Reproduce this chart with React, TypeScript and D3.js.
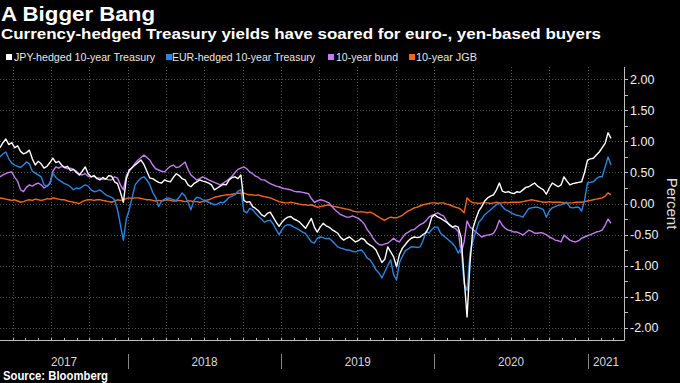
import React from "react";
import * as d3 from "d3";

const START = new Date(2017, 2, 2);
const END = new Date(2021, 2, 28);
const WEEKS = 209;
const dates: Date[] = d3.range(WEEKS).map((i) => d3.timeDay.offset(START, i * 7));

const jpyHedged = [
  0.90,0.98,1.04,0.95,0.98,0.90,0.93,0.84,0.80,0.82,
  0.86,0.72,0.62,0.68,0.64,0.57,0.60,0.66,0.73,0.66,
  0.68,0.62,0.58,0.60,0.53,0.55,0.50,0.46,0.52,0.59,
  0.48,0.43,0.45,0.40,0.38,0.42,0.39,0.45,0.44,0.35,
  0.32,0.18,0.02,0.40,0.54,0.58,0.62,0.66,0.70,0.63,
  0.52,0.41,0.40,0.37,0.34,0.33,0.38,0.36,0.35,0.42,
  0.48,0.45,0.40,0.38,0.30,0.27,0.32,0.35,0.38,0.36,
  0.35,0.33,0.30,0.22,0.25,0.28,0.31,0.30,0.38,0.42,
  0.43,0.40,0.46,0.05,0.02,0.03,-0.05,-0.08,-0.12,-0.18,
  -0.21,-0.16,-0.14,-0.22,-0.30,-0.37,-0.30,-0.25,-0.22,-0.21,
  -0.25,-0.27,-0.30,-0.35,-0.40,-0.32,-0.24,-0.38,-0.46,-0.38,
  -0.32,-0.36,-0.38,-0.42,-0.45,-0.48,-0.55,-0.59,-0.56,-0.54,
  -0.58,-0.62,-0.60,-0.56,-0.58,-0.64,-0.67,-0.70,-0.75,-0.85,
  -0.95,-0.90,-0.70,-0.78,-0.86,-1.02,-0.82,-0.72,-0.66,-0.60,
  -0.56,-0.54,-0.55,-0.54,-0.50,-0.47,-0.38,-0.22,-0.18,-0.22,
  -0.24,-0.27,-0.30,-0.34,-0.38,-0.36,-0.38,-0.55,-1.20,-1.83,
  -0.96,-0.40,-0.25,-0.12,-0.05,0.04,0.09,0.12,0.14,0.22,
  0.33,0.20,0.18,0.19,0.17,0.16,0.19,0.18,0.22,0.26,
  0.27,0.30,0.33,0.28,0.25,0.22,0.15,0.25,0.33,0.30,
  0.27,0.30,0.43,0.36,0.30,0.32,0.33,0.34,0.35,0.50,
  0.70,0.72,0.73,0.78,0.83,0.90,0.97,1.14,1.05,
];

const eurHedged = [
  0.75,0.80,0.83,0.72,0.65,0.62,0.60,0.58,0.62,0.67,
  0.64,0.52,0.49,0.46,0.43,0.30,0.28,0.33,0.49,0.42,
  0.38,0.35,0.32,0.30,0.27,0.22,0.25,0.24,0.27,0.30,
  0.28,0.22,0.19,0.20,0.22,0.18,0.14,0.12,0.10,0.06,
  -0.10,-0.35,-0.59,-0.25,-0.10,0.10,0.30,0.36,0.41,0.43,
  0.38,0.30,0.18,0.10,-0.05,0.04,0.07,0.09,0.08,0.06,
  0.05,0.10,0.17,0.12,0.02,-0.10,0.05,0.10,0.09,0.06,
  0.04,0.02,0.00,-0.02,-0.01,0.02,0.01,0.05,0.10,0.12,
  0.14,0.20,0.22,-0.12,-0.15,-0.08,-0.10,-0.16,-0.21,-0.25,
  -0.30,-0.28,-0.27,-0.33,-0.42,-0.50,-0.42,-0.36,-0.34,-0.35,
  -0.38,-0.40,-0.43,-0.46,-0.48,-0.55,-0.62,-0.64,-0.56,-0.54,
  -0.55,-0.57,-0.56,-0.60,-0.65,-0.70,-0.72,-0.73,-0.75,-0.75,
  -0.77,-0.78,-0.76,-0.75,-0.80,-0.88,-0.91,-0.98,-1.07,-1.12,
  -1.20,-1.10,-1.00,-0.91,-1.15,-1.23,-0.95,-0.85,-0.76,-0.73,
  -0.70,-0.70,-0.71,-0.70,-0.60,-0.45,-0.48,-0.42,-0.38,-0.38,
  -0.48,-0.52,-0.56,-0.60,-0.64,-0.70,-0.80,-0.72,-1.30,-1.40,
  -0.80,-0.60,-0.45,-0.30,-0.25,-0.18,-0.14,-0.10,-0.06,-0.02,
  0.01,-0.05,-0.10,-0.12,-0.15,-0.17,-0.19,-0.20,-0.22,-0.15,
  -0.08,-0.07,-0.06,-0.06,-0.08,-0.10,-0.22,-0.12,-0.07,-0.05,
  -0.03,-0.02,0.00,0.02,-0.06,-0.07,-0.06,-0.06,-0.12,0.05,
  0.33,0.34,0.35,0.40,0.43,0.43,0.59,0.75,0.62,
];

const bund = [
  0.43,0.46,0.48,0.50,0.51,0.42,0.36,0.22,0.19,0.26,
  0.30,0.28,0.31,0.33,0.30,0.25,0.28,0.32,0.52,0.59,
  0.57,0.60,0.58,0.56,0.57,0.55,0.52,0.47,0.46,0.48,
  0.44,0.43,0.44,0.41,0.41,0.39,0.40,0.38,0.38,0.43,
  0.41,0.30,0.22,0.45,0.52,0.58,0.65,0.70,0.74,0.78,
  0.74,0.70,0.62,0.56,0.54,0.52,0.51,0.56,0.60,0.62,
  0.58,0.59,0.63,0.67,0.55,0.46,0.42,0.38,0.40,0.43,
  0.41,0.38,0.36,0.34,0.32,0.30,0.33,0.36,0.40,0.44,
  0.50,0.55,0.57,0.59,0.56,0.51,0.48,0.44,0.42,0.38,
  0.38,0.35,0.32,0.30,0.28,0.27,0.25,0.24,0.23,0.22,
  0.20,0.19,0.19,0.18,0.17,0.16,0.08,0.02,0.04,0.06,
  0.05,0.03,0.01,-0.05,-0.10,-0.14,-0.18,-0.20,-0.22,-0.22,
  -0.20,-0.22,-0.24,-0.28,-0.33,-0.42,-0.48,-0.56,-0.62,-0.66,
  -0.67,-0.65,-0.64,-0.60,-0.56,-0.60,-0.62,-0.55,-0.49,-0.46,
  -0.43,-0.42,-0.38,-0.34,-0.32,-0.28,-0.22,-0.19,-0.17,-0.15,
  -0.18,-0.20,-0.28,-0.35,-0.38,-0.40,-0.45,-0.80,-0.62,-0.28,
  -0.38,-0.42,-0.46,-0.50,-0.54,-0.52,-0.51,-0.50,-0.48,-0.40,
  -0.27,-0.35,-0.40,-0.43,-0.44,-0.46,-0.46,-0.48,-0.51,-0.47,
  -0.43,-0.45,-0.48,-0.48,-0.47,-0.48,-0.50,-0.54,-0.56,-0.59,
  -0.60,-0.62,-0.51,-0.55,-0.59,-0.61,-0.62,-0.60,-0.56,-0.54,
  -0.52,-0.50,-0.48,-0.46,-0.45,-0.43,-0.35,-0.25,-0.32,
];

const jgb = [
  0.09,0.08,0.07,0.06,0.05,0.06,0.04,0.02,0.03,0.05,
  0.06,0.05,0.07,0.06,0.05,0.06,0.08,0.07,0.09,0.08,
  0.07,0.06,0.06,0.04,0.03,0.02,0.01,0.00,0.03,0.05,
  0.06,0.06,0.05,0.06,0.06,0.05,0.04,0.03,0.02,0.04,
  0.06,0.05,0.06,0.08,0.09,0.08,0.09,0.09,0.08,0.07,
  0.06,0.06,0.05,0.04,0.05,0.04,0.05,0.06,0.05,0.04,
  0.04,0.05,0.04,0.03,0.04,0.04,0.03,0.03,0.02,0.03,
  0.05,0.06,0.08,0.10,0.11,0.12,0.13,0.14,0.14,0.15,
  0.16,0.17,0.16,0.17,0.15,0.14,0.14,0.13,0.14,0.12,
  0.11,0.10,0.09,0.07,0.05,0.03,0.02,0.01,0.01,0.02,
  0.01,0.00,-0.01,-0.02,-0.02,-0.03,-0.02,-0.04,-0.06,-0.05,
  -0.04,-0.03,-0.02,-0.04,-0.05,-0.06,-0.07,-0.08,-0.09,-0.10,
  -0.12,-0.13,-0.14,-0.13,-0.14,-0.15,-0.14,-0.16,-0.19,-0.22,
  -0.25,-0.27,-0.24,-0.22,-0.23,-0.23,-0.21,-0.19,-0.15,-0.12,
  -0.10,-0.07,-0.06,-0.04,-0.02,-0.01,0.00,0.01,0.01,0.00,
  0.01,0.01,-0.01,-0.02,-0.04,-0.06,-0.07,-0.10,-0.15,0.09,
  0.04,0.01,0.01,0.00,0.01,0.01,0.01,0.00,0.01,0.02,
  0.01,0.01,0.02,0.01,0.02,0.02,0.02,0.02,0.03,0.04,
  0.05,0.06,0.05,0.04,0.03,0.02,0.02,0.03,0.02,0.02,
  0.02,0.02,0.01,0.01,0.01,0.01,0.02,0.02,0.02,0.03,
  0.04,0.05,0.06,0.07,0.08,0.09,0.12,0.17,0.14,
];

const seriesNames = [
  "JPY-hedged 10-year Treasury",
  "EUR-hedged 10-year Treasury",
  "10-year bund",
  "10-year JGB",
];
const seriesColors = ["#ffffff", "#2a86e0", "#c27cf0", "#f2661c"];
const seriesValues = [jpyHedged, eurHedged, bund, jgb];
const drawOrder = [3, 2, 1, 0];

const yTicks = [2, 1.5, 1, 0.5, 0, -0.5, -1, -1.5, -2];
const yMinorTicks = d3.range(-2, 2.01, 0.25);

const W = 680;
const H = 383;
const PLOT = { left: 0, right: 624, top: 67, bottom: 340 };
const FONT = "'Liberation Sans', Arial, sans-serif";

// legend layout: [swatchX, textX, textWidth]
const legendLayout = [
  [6, 14, 141],
  [166, 172, 143],
  [328, 336, 62],
  [409, 416, 61],
];

export default function App() {
  const x = d3.scaleTime().domain([START, END]).range([PLOT.left, PLOT.right]);
  const y = d3.scaleLinear().domain([-2.2, 2.2]).range([PLOT.bottom, PLOT.top]);

  const quarters = d3.timeMonth.every(3)!.range(START, END);
  const months = d3.timeMonth.range(START, END);
  const yearStarts = d3.timeYear.range(START, END);
  const years = d3.timeYear.range(d3.timeYear.floor(START), END);

  const line = (vals: number[]) =>
    d3
      .line<number>()
      .x((_, i) => x(dates[i]))
      .y((v) => y(v))(vals) || "";

  return (
    <svg
      width={W}
      height={H}
      style={{ position: "absolute", left: 0, top: 0, background: "#000" }}
      fontFamily={FONT}
    >
      <rect x={0} y={0} width={W} height={H} fill="#000" />
      <text x={1} y={21} fill="#fff" fontWeight="bold" fontSize={20} textLength={154} lengthAdjust="spacingAndGlyphs">
        A Bigger Bang
      </text>
      <text x={1} y={39} fill="#fff" fontWeight="bold" fontSize={15} textLength={600} lengthAdjust="spacingAndGlyphs">
        Currency-hedged Treasury yields have soared for euro-, yen-based buyers
      </text>

      {seriesNames.map((name, i) => (
        <g key={name}>
          <rect x={legendLayout[i][0]} y={54} width={6} height={6} fill={seriesColors[i]} />
          <text
            x={legendLayout[i][1]}
            y={61}
            fill="#e6e6e6"
            fontSize={11.5}
            textLength={legendLayout[i][2]}
            lengthAdjust="spacingAndGlyphs"
          >
            {name}
          </text>
        </g>
      ))}

      {/* grid */}
      <g stroke="#555" strokeWidth={1} strokeDasharray="1,2">
        {yTicks.map((t) => (
          <line key={"h" + t} x1={PLOT.left} x2={PLOT.right} y1={Math.round(y(t)) + 0.5} y2={Math.round(y(t)) + 0.5} />
        ))}
        {quarters.map((d) => (
          <line key={"v" + +d} x1={Math.round(x(d)) + 0.5} x2={Math.round(x(d)) + 0.5} y1={PLOT.top} y2={PLOT.bottom} />
        ))}
      </g>

      {/* series */}
      <g fill="none" strokeLinejoin="round">
        {drawOrder.map((k) => (
          <path key={seriesNames[k]} d={line(seriesValues[k])} stroke={seriesColors[k]} strokeWidth={1.4} />
        ))}
      </g>

      {/* axes */}
      <g stroke="#bdbdbd" strokeWidth={1}>
        <line x1={PLOT.left} x2={PLOT.right + 0.5} y1={PLOT.bottom + 0.5} y2={PLOT.bottom + 0.5} />
        <line x1={PLOT.right + 0.5} x2={PLOT.right + 0.5} y1={PLOT.top} y2={PLOT.bottom + 0.5} />
        {months.map((d) => (
          <line key={"m" + +d} x1={Math.round(x(d)) + 0.5} x2={Math.round(x(d)) + 0.5} y1={PLOT.bottom - 2} y2={PLOT.bottom} />
        ))}
        {yMinorTicks.map((t) => (
          <line key={"yt" + t} x1={PLOT.right} x2={PLOT.right + 4} y1={Math.round(y(t)) + 0.5} y2={Math.round(y(t)) + 0.5} />
        ))}
      </g>
      {yTicks.map((t) => (
        <text key={"yl" + t} x={630} y={y(t) + 4.5} fill="#f0f0f0" fontSize={12.5}>
          {t.toFixed(2)}
        </text>
      ))}
      <text
        transform={`translate(667,${(PLOT.top + PLOT.bottom) / 2}) rotate(90)`}
        textAnchor="middle"
        fill="#e0e0e0"
        fontSize={15}
      >
        Percent
      </text>

      {/* year separators & labels */}
      <g stroke="#888" strokeWidth={1}>
        {yearStarts.map((d) => (
          <line key={"ys" + +d} x1={Math.round(x(d)) + 0.5} x2={Math.round(x(d)) + 0.5} y1={354} y2={369} />
        ))}
      </g>
      {years.map((d) => {
        const a = Math.max(+d, +START);
        const b = Math.min(+d3.timeYear.offset(d, 1), +END);
        const cx = (x(new Date(a)) + x(new Date(b))) / 2;
        return (
          <text key={"yl" + +d} x={cx} y={366} textAnchor="middle" fill="#d8d8d8" fontSize={13} textLength={26} lengthAdjust="spacingAndGlyphs">
            {d3.timeFormat("%Y")(d)}
          </text>
        );
      })}

      <text x={3} y={380} fill="#fff" fontWeight="bold" fontSize={12} textLength={105} lengthAdjust="spacingAndGlyphs">
        Source: Bloomberg
      </text>
    </svg>
  );
}
